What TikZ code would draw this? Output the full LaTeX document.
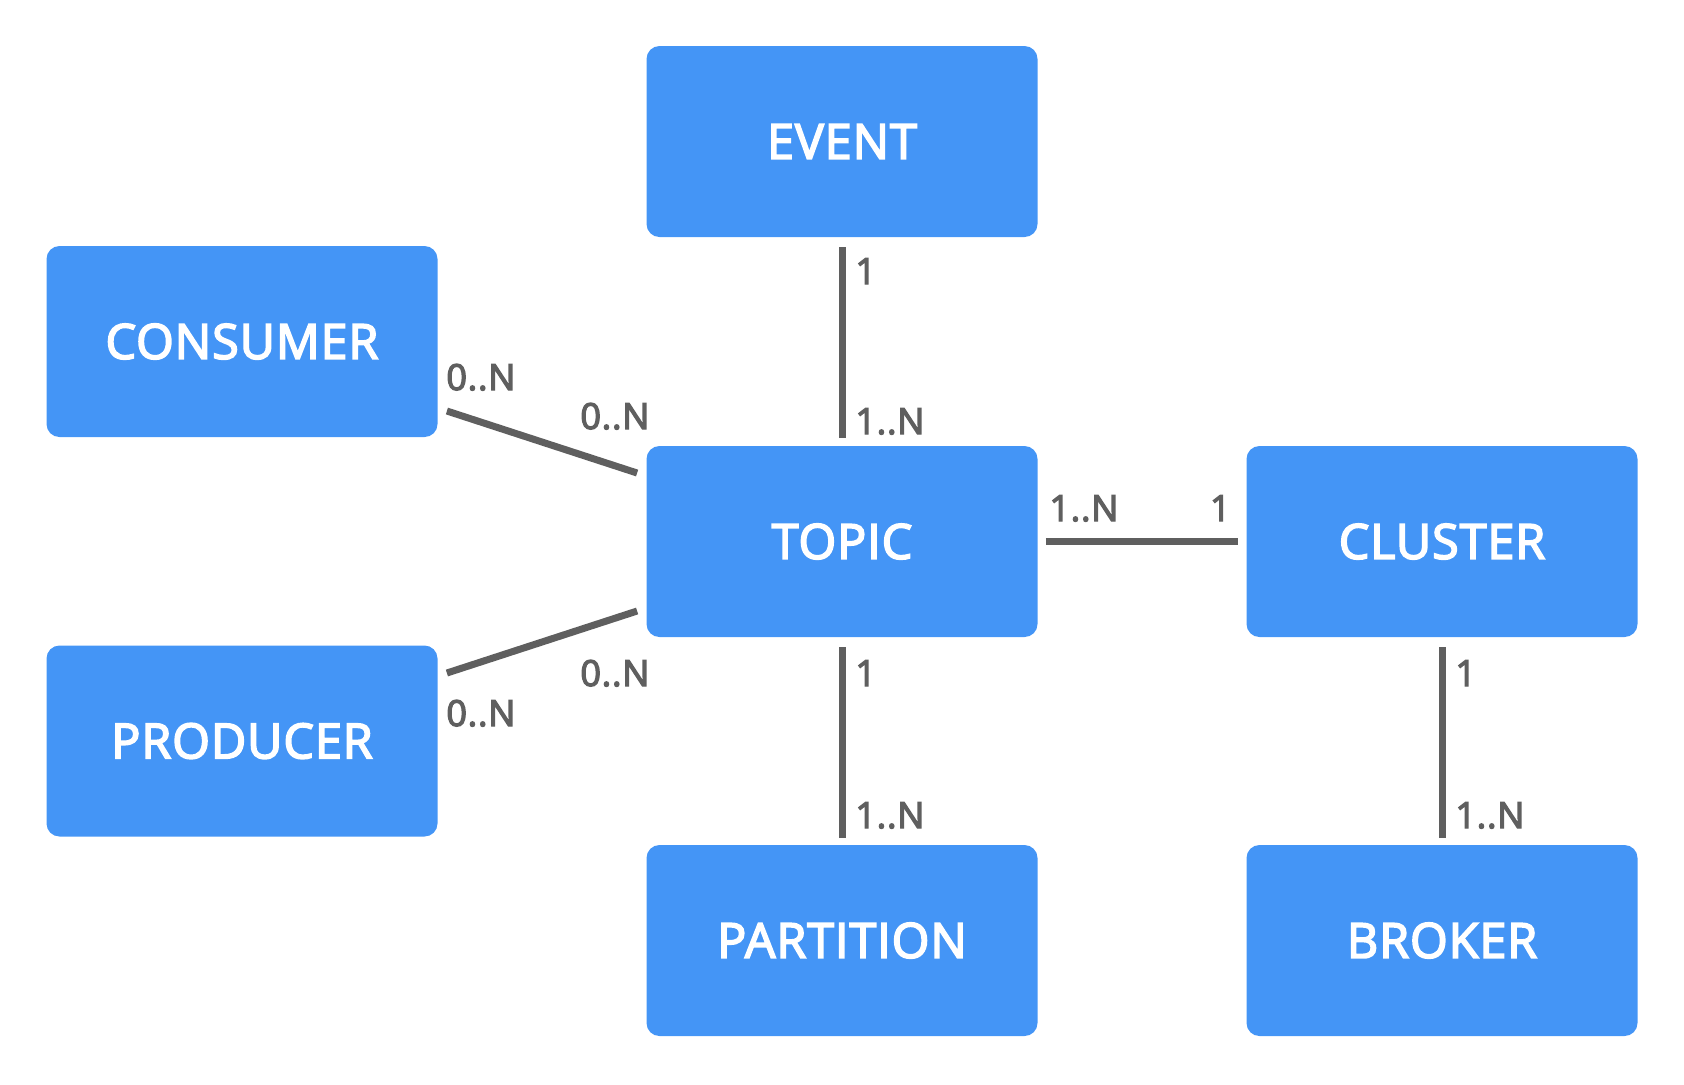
\documentclass[tikz,border=0pt]{standalone}
\usepackage{fontspec}
\setmainfont{Open Sans}
\newfontfamily\semib{Open Sans}[FakeBold=3.5, LetterSpace=2]
\usetikzlibrary{calc}
\definecolor{boxblue}{HTML}{4495F6}
\definecolor{linegray}{HTML}{5F5F5F}
\tikzset{
  entity/.style={rectangle, rounded corners=6.5pt, fill=boxblue, draw=none,
    minimum width=195.5pt, minimum height=95.5pt, inner sep=0pt,
    text=white, font=\semib\fontsize{24.2}{30}\selectfont},
  rel/.style={draw=linegray, line width=3.5pt},
  card/.style={inner sep=0pt, text=linegray, font=\semib\fontsize{18}{21}\selectfont},
}
\begin{document}
\begin{tikzpicture}[x=0.5pt, y=-0.5pt]
\useasboundingbox (0,0) rectangle (1684,1084);
\node[entity] (event) at (842,141.5) {EVENT};
\node[entity] (consumer) at (242,341.5) {CONSUMER};
\node[entity] (topic) at (842,541.5) {TOPIC};
\node[entity] (cluster) at (1442,541.5) {CLUSTER};
\node[entity] (producer) at (242,741) {PRODUCER};
\node[entity] (partition) at (842,940.5) {PARTITION};
\node[entity] (broker) at (1442,940.5) {BROKER};

\draw[rel, shorten <=5pt, shorten >=4pt] (event.south) -- (topic.north);
\draw[rel, shorten <=5pt, shorten >=3.5pt] (topic.south) -- (partition.north);
\draw[rel, shorten <=5pt, shorten >=3.5pt] (cluster.south) -- (broker.north);
\draw[rel, shorten <=4pt, shorten >=4pt] (topic.east) -- (cluster.west);
\draw[rel] ($(consumer.east)+(9,69.5)$) -- ($(topic.west)+(-9,-68.5)$);
\draw[rel] ($(producer.east)+(9,-68)$) -- ($(topic.west)+(-9,69.5)$);

\node[card, anchor=base west] (c1) at (855,284) {1};
\node[card, anchor=base west] (c2) at (855,434) {1..N};
\node[card, anchor=base west] (c3) at (446,390) {0..N};
\node[card, anchor=base west] (c4) at (580,429) {0..N};
\node[card, anchor=base west] (c5) at (580,686) {0..N};
\node[card, anchor=base west] (c6) at (446,726) {0..N};
\node[card, anchor=base west] (c7) at (1049,521) {1..N};
\node[card, anchor=base east] (c8) at (1231,521) {1};
\node[card, anchor=base west] (c9) at (855,686) {1};
\node[card, anchor=base west] (c10) at (855,828) {1..N};
\node[card, anchor=base west] (c11) at (1455,686) {1};
\node[card, anchor=base west] (c12) at (1455,828) {1..N};
\end{tikzpicture}
\end{document}
